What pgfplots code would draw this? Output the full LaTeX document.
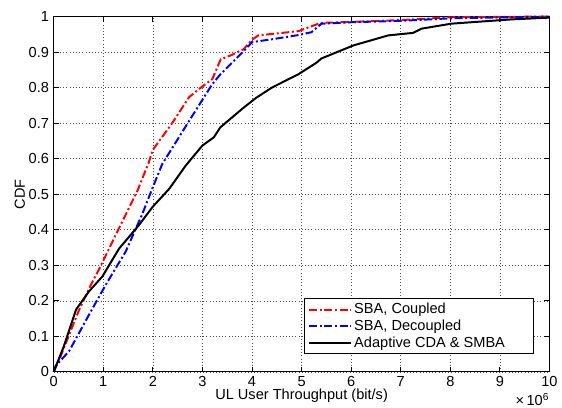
\documentclass[border=0pt]{standalone}
\usepackage{pgfplots}
\pgfplotsset{compat=1.18}
\usepackage{fontspec}
\setmainfont{Liberation Sans}
\begin{document}
\begin{tikzpicture}
\begin{axis}[
    scale only axis,
    width=374pt,
    height=268pt,
    xmin=0,xmax=10,
    ymin=0,ymax=1,
    xtick={0,1,...,10},
    ytick={0,0.1,...,1},
    yticklabel style={/pgf/number format/fixed,/pgf/number format/precision=1},
    /pgf/number format/assume math mode=true,
    tick align=inside,
    tick pos=both,
    major tick length=4pt,
    grid=major,
    major grid style={dotted,black!70},
    axis line style={black,line width=0.6pt},
    tick style={black,line width=0.6pt},
    font=\fontsize{11}{13}\selectfont,
    xlabel={UL User Throughput (bit/s)},
    ylabel={CDF},
    xlabel style={yshift=5pt},
    ylabel style={yshift=-4pt},
    legend cell align=left,
    legend style={at={(0.968,0.05)},anchor=south east,draw=black,line width=0.6pt,
        font=\fontsize{11}{13}\selectfont,inner xsep=3pt,inner ysep=1.5pt,row sep=-1pt},
    legend image code/.code={\draw[#1] (0cm,0cm) -- (1.1cm,0cm);},
    legend image post style={line width=1.5pt},
    clip=false
]
\addplot[red,line width=1.5pt,dash pattern=on 6pt off 2pt on 1.5pt off 2pt] coordinates {
(0,0) (0.1,0.03) (0.3,0.1) (0.5,0.17) (0.75,0.245) (0.92,0.29) (1.25,0.385) (1.69,0.51)
(1.92,0.59) (2.0,0.625) (2.39,0.70) (2.73,0.773) (2.93,0.796) (3.2,0.824) (3.37,0.88)
(3.56,0.89) (3.83,0.908) (4.0,0.935) (4.13,0.947) (4.94,0.959) (5.38,0.982) (6.0,0.985)
(7.0,0.99) (8.0,0.998) (10,1)};
\addlegendentry{\makebox[130pt][l]{SBA, Coupled}}
\addplot[blue,line width=1.5pt,dash pattern=on 6pt off 2pt on 1.5pt off 2pt] coordinates {
(0,0) (0.04,0.017) (0.31,0.058) (0.71,0.16) (1.05,0.245) (1.45,0.338) (1.79,0.445)
(2.0,0.52) (2.19,0.585) (2.69,0.697) (3.2,0.81) (3.36,0.837) (3.87,0.908) (4.0,0.928)
(4.4,0.936) (4.94,0.948) (5.2,0.956) (5.4,0.98) (6,0.984) (7,0.988) (8,0.995) (10,1)};
\addlegendentry{SBA, Decoupled}
\addplot[black,line width=1.5pt] coordinates {
(0,0) (0.2,0.07) (0.45,0.175) (0.71,0.226) (0.98,0.268) (1.32,0.347) (1.72,0.413)
(2.0,0.465) (2.33,0.515) (2.66,0.58) (3.0,0.637) (3.23,0.66) (3.36,0.688) (3.8,0.74)
(4.07,0.77) (4.4,0.80) (4.94,0.838) (5.3,0.87) (5.4,0.882) (6.05,0.919) (6.75,0.947)
(7.25,0.954) (7.42,0.966) (8.02,0.98) (9.23,0.992) (10,0.997)};
\addlegendentry{Adaptive CDA \& SMBA}
\node[anchor=south east,font=\fontsize{11}{13}\selectfont,inner sep=0pt] at (rel axis cs:1.0,0) [yshift=-26pt] {×\,10\textsuperscript{6}};
\path (rel axis cs:0,1) ++(-40.5pt,12.5pt);
\path (rel axis cs:1,0) ++(0,-26pt);
\end{axis}
\end{tikzpicture}
\end{document}
